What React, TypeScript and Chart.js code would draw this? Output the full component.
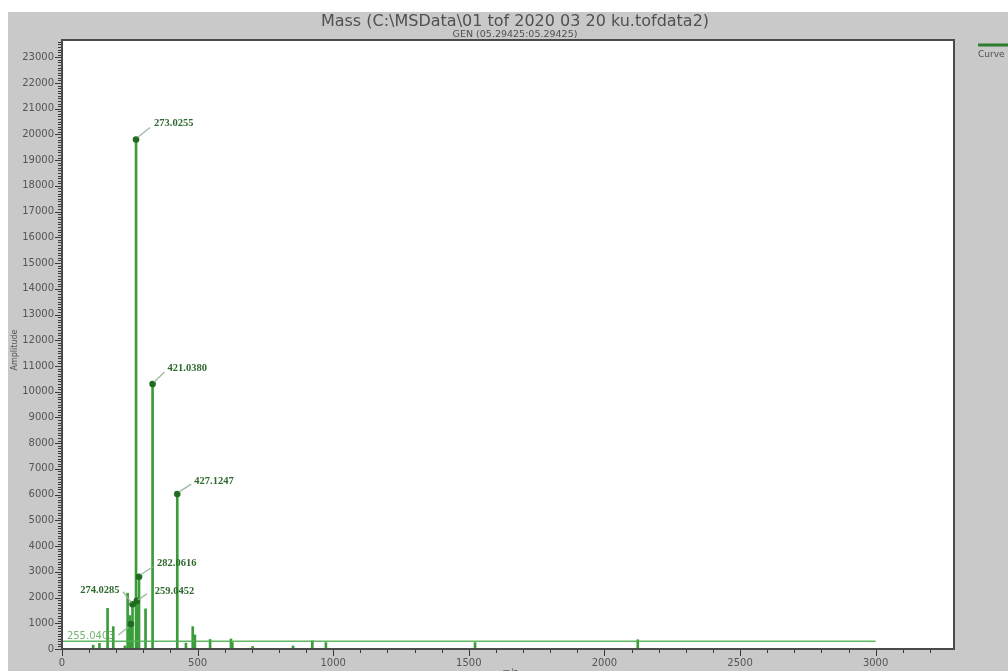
import React, { useEffect, useRef } from 'react';
import { Chart, registerables } from 'chart.js';

Chart.register(...registerables);

// ---------- text ----------
const TITLE = 'Mass (C:\\MSData\\01 tof 2020 03 20 ku.tofdata2)';
const SUBTITLE = 'GEN (05.29425:05.29425)';
const LEGEND_LABEL = 'Curve';
const X_TITLE = 'm/z';
const Y_TITLE = 'Amplitude';

// ---------- data ----------
const peakMz = [115, 138, 168, 189, 232, 242, 251, 254, 260, 273, 276, 279, 284, 308, 334, 425, 457, 482, 490, 546, 623, 628, 703, 852, 923, 973, 1523, 2123];
const peakAmp = [150, 220, 1580, 870, 120, 2170, 1300, 970, 1740, 19800, 1870, 1100, 2810, 1560, 10300, 6020, 230, 870, 550, 370, 390, 250, 100, 120, 320, 250, 250, 360];

const labelText = ['273.0255', '421.0380', '427.1247', '282.0616', '259.0452', '274.0285', '255.0403'];
const labelMz = [273, 334, 425, 284, 276, 260, 254];
const labelAmp = [19800, 10300, 6020, 2810, 1870, 1740, 970];

const baselineMz = [0, 3000];
const baselineAmp = [300, 300];

const X_MIN = 0;
const X_MAX = 3289;
const Y_MIN = 0;
const Y_MAX = 23670;
const X_MINOR = 100;
const X_MAJOR = 500;
const Y_MINOR = 100;
const Y_MAJOR = 1000;

// ---------- label styling (offsets from the marked point, in px) ----------
type LabelStyle = { dx: number; dy: number; align: CanvasTextAlign; leader: number[]; light?: boolean };
const labelStyles: LabelStyle[] = [
  { dx: 18, dy: -16, align: 'left', leader: [1.5, -2, 14, -12] },
  { dx: 15, dy: -16, align: 'left', leader: [1.5, -2, 12, -12] },
  { dx: 17, dy: -13, align: 'left', leader: [1.5, -2, 14, -10] },
  { dx: 18, dy: -13, align: 'left', leader: [1.5, -2, 14, -10] },
  { dx: 18, dy: -10, align: 'left', leader: [1, -1, 10, -7] },
  { dx: -13, dy: -13.5, align: 'right', leader: [-9.5, -12.5, -1, -1.5] },
  { dx: -64, dy: 12.5, align: 'left', leader: [-12.5, 11, -2.5, 3], light: true },
];

const GRAY = '#c9c9c9';
const STICK = 'rgb(58,156,58)';
const MARKER = '#1f6b1f';
const LABEL = '#2f6a2f';
const AXIS = '#4a4a4a';
const TEXT = '#555555';

const decor = {
  id: 'decor',
  beforeDraw(chart: any) {
    const { ctx, width, height, chartArea: a } = chart;
    ctx.save();
    ctx.fillStyle = GRAY;
    ctx.fillRect(0, 0, width, height);
    ctx.fillStyle = '#ffffff';
    ctx.fillRect(a.left, a.top, a.right - a.left, a.bottom - a.top);
    ctx.restore();
  },
  afterDatasetsDraw(chart: any) {
    const { ctx } = chart;
    const xs = chart.scales.x;
    const ys = chart.scales.y;
    ctx.save();
    labelText.forEach((t, i) => {
      const st = labelStyles[i];
      const px = xs.getPixelForValue(labelMz[i]);
      const py = ys.getPixelForValue(labelAmp[i]);
      ctx.strokeStyle = 'rgba(150,180,150,0.9)';
      ctx.lineWidth = 1.3;
      ctx.beginPath();
      ctx.moveTo(px + st.leader[0], py + st.leader[1]);
      ctx.lineTo(px + st.leader[2], py + st.leader[3]);
      ctx.stroke();
      ctx.textAlign = st.align;
      ctx.textBaseline = 'middle';
      if (st.light) {
        ctx.fillStyle = 'rgba(90,170,90,0.85)';
        ctx.font = '10px "DejaVu Sans"';
      } else {
        ctx.fillStyle = LABEL;
        ctx.font = 'bold 10.5px "Liberation Serif"';
      }
      ctx.fillText(t, px + st.dx, py + st.dy);
    });
    ctx.restore();
  },
  afterDraw(chart: any) {
    const { ctx, chartArea: a, width } = chart;
    const xs = chart.scales.x;
    const ys = chart.scales.y;
    ctx.save();
    // plot frame
    ctx.strokeStyle = AXIS;
    ctx.lineWidth = 2;
    ctx.strokeRect(a.left, a.top, a.right - a.left, a.bottom - a.top);
    // tick marks
    ctx.lineWidth = 1;
    ctx.strokeStyle = '#3a3a3a';
    ctx.beginPath();
    for (let v = Y_MIN; v <= Y_MAX; v += Y_MINOR) {
      const y = Math.round(ys.getPixelForValue(v)) + 0.5;
      const len = v % Y_MAJOR === 0 ? 6 : 3;
      ctx.moveTo(a.left - 1 - len, y);
      ctx.lineTo(a.left - 1, y);
    }
    for (let v = X_MIN; v <= X_MAX; v += X_MINOR) {
      const x = Math.round(xs.getPixelForValue(v)) + 0.5;
      const len = v % X_MAJOR === 0 ? 6 : 3;
      ctx.moveTo(x, a.bottom + 1);
      ctx.lineTo(x, a.bottom + 1 + len);
    }
    ctx.stroke();
    // titles
    const cx = (a.left + a.right) / 2 + 7;
    ctx.fillStyle = '#505050';
    ctx.textAlign = 'center';
    ctx.textBaseline = 'middle';
    ctx.font = '16px "DejaVu Sans"';
    ctx.fillText(TITLE, cx, 10);
    ctx.font = '9.5px "DejaVu Sans"';
    ctx.fillText(SUBTITLE, cx, 22.5);
    // axis titles
    ctx.fillStyle = TEXT;
    ctx.font = '8px "DejaVu Sans"';
    ctx.fillText(X_TITLE, (a.left + a.right) / 2 + 2, a.bottom + 24);
    ctx.save();
    ctx.translate(7, 338);
    ctx.rotate(-Math.PI / 2);
    ctx.fillText(Y_TITLE, 0, 0);
    ctx.restore();
    // legend
    ctx.strokeStyle = '#2e7d2e';
    ctx.lineWidth = 3;
    ctx.beginPath();
    ctx.moveTo(970, 33);
    ctx.lineTo(width, 33);
    ctx.stroke();
    ctx.fillStyle = '#505050';
    ctx.textAlign = 'left';
    ctx.font = '9px "DejaVu Sans"';
    ctx.fillText(LEGEND_LABEL, 970, 43);
    ctx.restore();
  },
};

export default function App() {
  const ref = useRef<HTMLCanvasElement>(null);
  useEffect(() => {
    const sticks = peakMz.map((m, i) => ({ x: m, y: peakAmp[i] }));
    const markers = labelMz.map((m, i) => ({ x: m, y: labelAmp[i] }));
    const baseline = baselineMz.map((m, i) => ({ x: m, y: baselineAmp[i] }));
    const tickFont = { family: '"DejaVu Sans"', size: 10 };
    const chart = new Chart(ref.current as HTMLCanvasElement, {
      type: 'scatter',
      data: {
        datasets: [
          {
            type: 'scatter',
            label: 'markers',
            data: markers,
            pointRadius: 3.3,
            pointBackgroundColor: MARKER,
            pointBorderColor: MARKER,
            pointBorderWidth: 0,
          } as any,
          {
            type: 'line',
            label: 'baseline',
            data: baseline,
            borderColor: 'rgba(80,175,80,0.9)',
            borderWidth: 1.5,
            pointRadius: 0,
            fill: false,
          } as any,
          {
            type: 'bar',
            label: LEGEND_LABEL,
            data: sticks,
            backgroundColor: STICK,
            borderWidth: 0,
            barThickness: 2,
          } as any,
        ],
      },
      options: {
        responsive: false,
        animation: false,
        layout: { padding: { left: 0, top: 28, right: 54, bottom: 0 } },
        plugins: {
          legend: { display: false },
          title: { display: false },
          tooltip: { enabled: false },
        },
        scales: {
          x: {
            type: 'linear',
            min: X_MIN,
            max: X_MAX,
            offset: false,
            grid: { display: false, drawTicks: false },
            border: { display: false },
            ticks: {
              stepSize: X_MINOR,
              autoSkip: false,
              maxRotation: 0,
              minRotation: 0,
              padding: 8,
              color: TEXT,
              font: tickFont,
              callback: (v: any) => (Number(v) % X_MAJOR === 0 ? String(v) : ''),
            },
            afterFit: (s: any) => {
              s.height = 22;
            },
          },
          y: {
            type: 'linear',
            min: Y_MIN,
            max: Y_MAX,
            grid: { display: false, drawTicks: false },
            border: { display: false },
            ticks: {
              stepSize: Y_MINOR,
              autoSkip: false,
              padding: 8,
              color: TEXT,
              font: tickFont,
              callback: (v: any) => (Number(v) % Y_MAJOR === 0 ? String(v) : ''),
            },
            afterFit: (s: any) => {
              s.width = 54;
            },
          },
        },
      } as any,
      plugins: [decor],
    });
    return () => chart.destroy();
  }, []);

  return (
    <div style={{ position: 'fixed', left: 0, top: 0, width: 1008, height: 671, background: '#ffffff', overflow: 'hidden' }}>
      <div style={{ position: 'absolute', left: 8, top: 12, width: 1000, height: 659 }}>
        <canvas ref={ref} width={1000} height={659} style={{ display: 'block', width: 1000, height: 659 }} />
      </div>
    </div>
  );
}
